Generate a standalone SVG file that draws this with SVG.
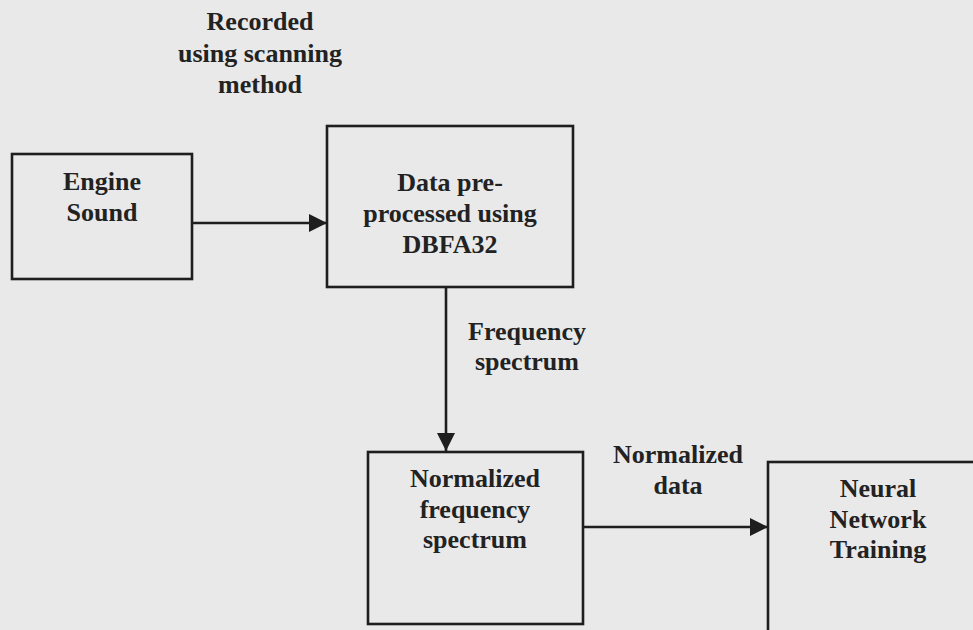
<svg xmlns="http://www.w3.org/2000/svg" width="973" height="630" viewBox="0 0 973 630">
<style>
.bg{fill:#e9e9e9}
.box{fill:none;stroke:#1e1e1e;stroke-width:2.6}
.ln{fill:none;stroke:#1e1e1e;stroke-width:2.6}
text{font-family:"Liberation Serif","Times New Roman",serif;font-weight:bold;font-size:26px;fill:#222;text-anchor:middle}
</style>
<defs>
<marker id="ah" viewBox="0 0 10 10" refX="10" refY="5" markerWidth="7" markerHeight="7" markerUnits="userSpaceOnUse" orient="auto">
<path d="M0,0 L10,5 L0,10 z" fill="#1e1e1e"/>
</marker>
<marker id="ah2" viewBox="0 0 10 10" refX="10" refY="5" markerWidth="18" markerHeight="18" markerUnits="userSpaceOnUse" orient="auto">
<path d="M0,0 L10,5 L0,10 z" fill="#1e1e1e"/>
</marker>
</defs>
<rect class="bg" x="0" y="0" width="973" height="630"/>
<g id="connectors">
<line class="ln" x1="192" y1="223" x2="327" y2="223" marker-end="url(#ah2)"/>
<line class="ln" x1="446" y1="287" x2="446" y2="451" marker-end="url(#ah2)"/>
<line class="ln" x1="583" y1="527" x2="768" y2="527" marker-end="url(#ah2)"/>
</g>
<g id="label-recorded">
<text x="260" y="30">Recorded</text>
<text x="260" y="62">using scanning</text>
<text x="260" y="93">method</text>
</g>
<g id="node-engine">
<rect class="box" x="12" y="154" width="180" height="125"/>
<text x="102" y="190">Engine</text>
<text x="102" y="221">Sound</text>
</g>
<g id="node-data">
<rect class="box" x="327" y="126" width="246" height="161"/>
<text x="450" y="191">Data pre-</text>
<text x="450" y="222">processed using</text>
<text x="450" y="253">DBFA32</text>
</g>
<g id="label-frequency">
<text x="527" y="340">Frequency</text>
<text x="527" y="370">spectrum</text>
</g>
<g id="node-normalized">
<rect class="box" x="368" y="452" width="215" height="172"/>
<text x="475" y="487">Normalized</text>
<text x="475" y="518">frequency</text>
<text x="475" y="548">spectrum</text>
</g>
<g id="label-normdata">
<text x="678" y="463">Normalized</text>
<text x="678" y="494">data</text>
</g>
<g id="node-neural">
<rect class="box" x="768" y="462" width="220" height="190"/>
<text x="878" y="497">Neural</text>
<text x="878" y="528">Network</text>
<text x="878" y="558">Training</text>
</g>
</svg>
